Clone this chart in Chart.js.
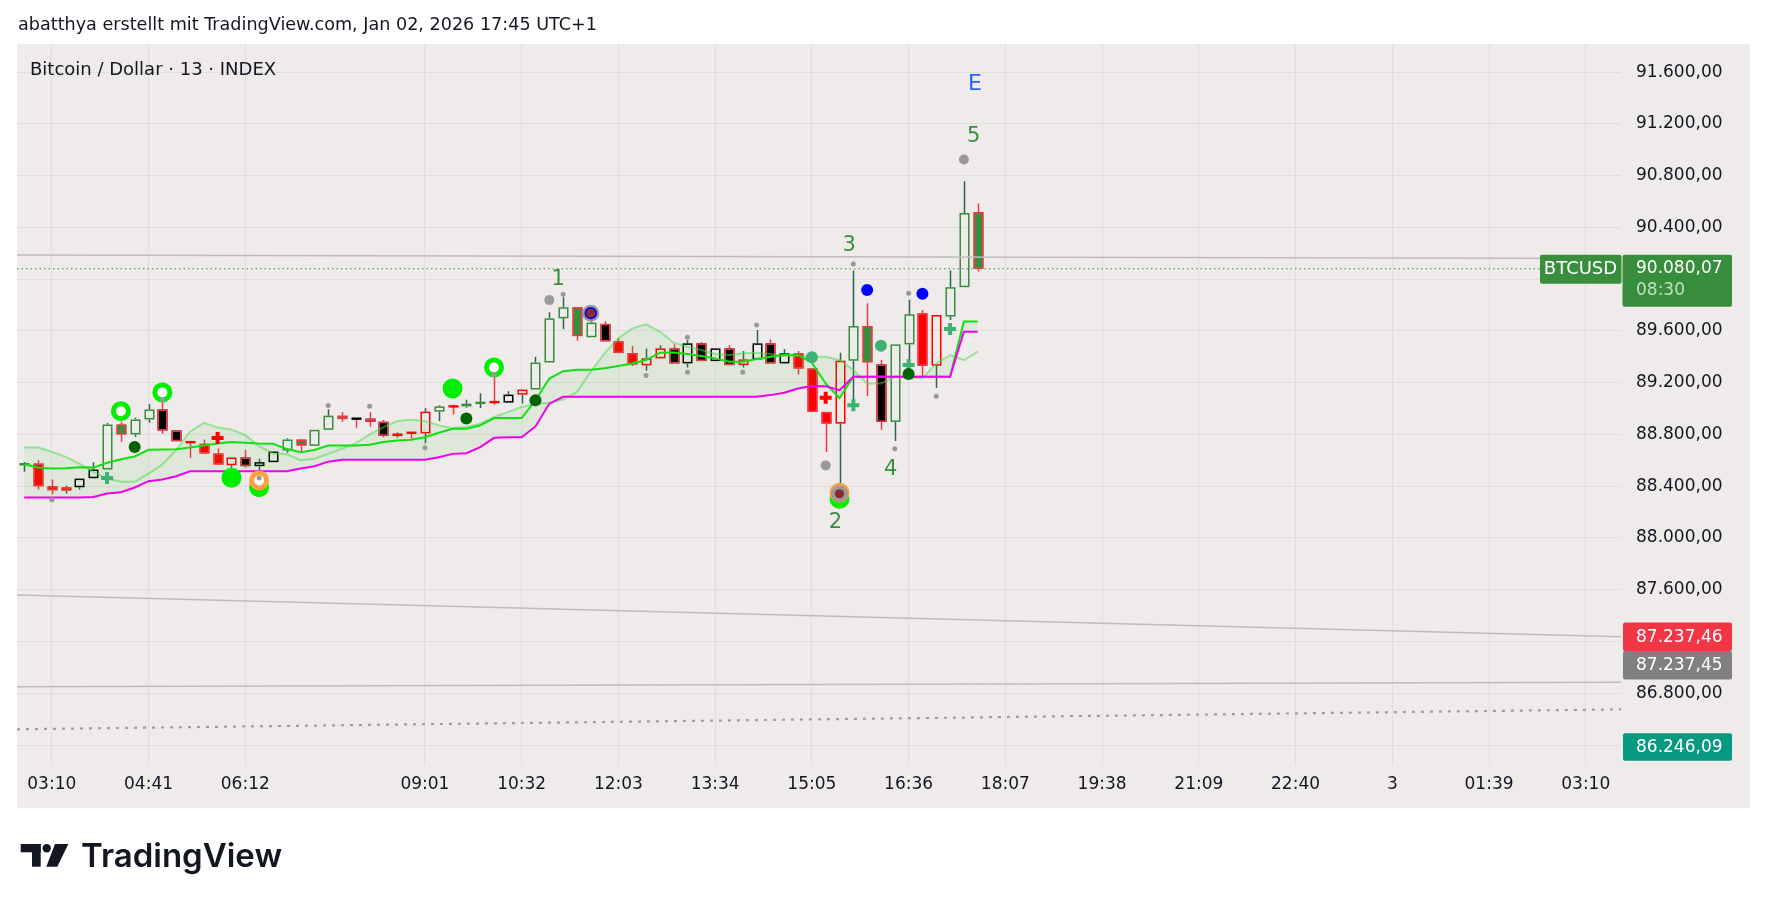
<!DOCTYPE html>
<html><head><meta charset="utf-8">
<script src="https://cdn.jsdelivr.net/npm/chart.js@4.4.1/dist/chart.umd.min.js"></script>
<style>html,body{margin:0;padding:0;background:#fff;}canvas{display:block;}</style>
</head><body>
<canvas id="c" width="1767" height="906"></canvas>
<script>
// ---------- DATA ----------
const bars   = [-2,-1,0,1,2,3,4,5,6,7,8,9,10,11,12,13,14,15,16,17,18,19,20,21,22,23,24,25,26,27,28,29,30,31,32,33,34,35,36,37,38,39,40,41,42,43,44,45,46,47,48,49,50,51,52,53,54,55,56,57,58,59,60,61,62,63,64,65,66,67];
const opens  = [88568,88575,88400,88366,88392,88462,88529,88877,88800,88916,88993,88831,88748,88728,88653,88562,88622,88555,88586,88676,88761,88712,88836,88945,88922,88922,88898,88787,88813,88808,88976,89017,89017,89035,89050,89046,89108,89147,89356,89697,89783,89551,89654,89520,89429,89334,89388,89465,89349,89504,89367,89465,89336,89380,89504,89349,89427,89310,88974,88884,89370,89638,89341,88897,89496,89736,89331,89711,89938,90519];
const highs  = [88588,88601,88452,88403,88459,88586,88890,88898,88929,89035,89050,88831,88748,88761,88692,88622,88679,88612,88668,88771,88761,88836,88994,88971,88922,88973,88911,88816,88813,89002,89025,89030,89069,89118,89271,89134,89147,89400,89744,89860,89783,89690,89675,89546,89484,89465,89489,89496,89530,89515,89465,89489,89445,89608,89535,89460,89445,89310,88974,89432,90067,89814,89375,89496,89840,89762,89723,90067,90757,90584];
const lows   = [88511,88374,88338,88343,88374,88462,88529,88743,88782,88890,88805,88748,88619,88653,88568,88542,88542,88519,88586,88658,88658,88712,88836,88898,88852,88860,88779,88774,88754,88733,88904,88955,89007,89004,89030,89046,89038,89147,89356,89612,89525,89551,89520,89429,89329,89292,89388,89349,89318,89367,89367,89336,89318,89380,89349,89349,89264,88974,88664,88420,89065,89098,88837,88750,89330,89246,89160,89685,89938,90059];
const closes = [88572,88400,88369,88392,88459,88529,88877,88800,88916,88993,88831,88748,88733,88653,88568,88622,88555,88586,88668,88761,88715,88836,88945,88919,88922,88898,88790,88808,88813,88976,89017,89017,89038,89053,89050,89108,89147,89356,89697,89783,89560,89664,89520,89429,89341,89388,89465,89349,89504,89367,89465,89336,89380,89504,89349,89427,89310,88974,88884,89370,89638,89357,88897,89496,89729,89331,89723,89938,90511,90080];
// candle colouring class from the indicator (G hollow green, g green filled, R red filled, r hollow red, K black filled, k hollow black)
const candleKind = ["G","R","R","r","k","k","G","g","G","G","K","K","R","R","R","r","K","k","k","G","g","G","G","g","K","K","K","r","R","r","G","R","G","G","R","k","r","G","G","G","g","G","K","R","R","r","r","K","k","K","k","K","r","k","K","k","R","R","R","r","G","g","K","G","G","R","r","G","G","g"];

const limeLine    = [88570,88544,88537,88539,88547,88544,88581,88609,88630,88681,88684,88686,88699,88715,88730,88741,88735,88730,88728,88689,88663,88680,88715,88715,88715,88720,88741,88754,88759,88779,88813,88844,88844,88870,88927,88927,88927,89064,89232,89289,89300,89300,89311,89329,89349,89375,89432,89434,89422,89406,89388,89362,89362,89383,89401,89414,89414,89355,89194,89080,89246,89246,89246,89246,89246,89246,89246,89246,89672,89672];
const magentaLine = [88312,88312,88312,88312,88312,88317,88343,88353,88390,88439,88452,88477,88516,88516,88516,88516,88516,88516,88516,88516,88537,88555,88590,88604,88604,88604,88604,88604,88604,88604,88624,88650,88655,88702,88774,88779,88779,88862,89038,89091,89091,89091,89091,89091,89091,89091,89091,89091,89091,89091,89091,89091,89091,89091,89104,89122,89155,89174,89173,89142,89246,89246,89246,89246,89246,89246,89246,89246,89594,89594];
const lightLine   = [88699,88699,88666,88627,88575,88511,88459,88434,88434,88498,88568,88679,88821,88890,88854,88839,88795,88710,88653,88648,88601,88612,88650,88689,88733,88800,88857,88904,88914,88904,88870,88849,88857,88883,88935,88973,89012,89038,89043,89069,89129,89285,89427,89543,89620,89651,89595,89509,89478,89453,89422,89414,89427,89432,89422,89406,89406,89400,89400,89375,89297,89194,89194,89246,89246,89233,89349,89414,89375,89440];

// markers (bar index / price)
const grayDotIdx  = [0,8,15,20,23,27,32,37,43,46,46,50,51,58,61,62,64];
const grayDotVal  = [88295,89070,88463,89024,89018,88698,89264,89884,89256,89551,89280,89280,89646,90117,88690,89892,89096];
const bigGrayIdx  = [36,56,66];
const bigGrayVal  = [89838,88561,90925];
const limeRingIdx = [5,8,32];
const limeRingVal = [88980,89125,89318];
const limeDotIdx  = [13,29,15,57];
const limeDotVal  = [88466,89155,88393,88303];
const darkDotIdx  = [6,30,35,62];
const darkDotVal  = [88703,88923,89065,89267];
const seaDotIdx   = [55,60];
const seaDotVal   = [89396,89486];
const plusIdx     = [4,58,62,65];
const plusVal     = [88463,89026,89336,89615];
const redPlusIdx  = [12,56];
const redPlusVal  = [88773,89083];
const blueDotIdx  = [59,63];
const blueDotVal  = [89917,89887];
const orangeIdx   = [15,57];
const orangeVal   = [88445,88350];
const pivotIdx    = [39,57];
const pivotVal    = [89737,88342];
const blueRingIdx = [39];
const blueRingVal = [89737];

const waveIdx  = [36.65,56.7,57.7,60.7,66.7,66.8];
const waveVal  = [89999,88121,90258,88530,91099,91502];
const waveText = ["1","2","3","4","5","E"];

// horizontal / trend lines (value at left edge, value at right edge)
const trendLeft  = [90187,87560,86851];
const trendRight = [90160,87237.46,86885];
const dottedLeft = 86522, dottedRight = 86676;
const lastPrice = 90080.07, lastCountdown = "08:30";
const tagRed = 87237.46, tagGray = 87237.45, tagTeal = 86246.09;

const xTickIdx    = [0,7,14,27,34,41,48,55,62,69,76,83,90,97,104,111];
const xTickLabels = ["03:10","04:41","06:12","09:01","10:32","12:03","13:34","15:05","16:36","18:07","19:38","21:09","22:40","3","01:39","03:10"];
const yTickVals   = [86400,86800,87200,87600,88000,88400,88800,89200,89600,90000,90400,90800,91200,91600];
const X_MIN = -2.518, X_MAX = 113.55, Y_MIN = 86246, Y_MAX = 91817;

// ---------- HELPERS ----------
const FONT = "'DejaVu Sans', Verdana, sans-serif";
function fmtDE(v){
  const s = Number(v).toFixed(2); const p = s.split('.');
  return p[0].replace(/\B(?=(\d{3})+(?!\d))/g,'.') + ',' + p[1];
}
function pts(xs, ys){ return xs.map((x,k)=>({x:x, y:ys[k]})); }

const KIND = {
  G:{fill:null,     stroke:'#388E3C'},
  g:{fill:'#388E3C',stroke:'#F23645'},
  R:{fill:'#FF0000',stroke:'#F23645'},
  r:{fill:null,     stroke:'#FF0000'},
  K:{fill:'#000000',stroke:'#F23645'},
  k:{fill:null,     stroke:'#000000'}
};
const WICK_UP = '#2B6452', WICK_DN = '#F23645';

const bgPlugin = {
  id:'bg',
  beforeDraw(chart){
    const ctx = chart.ctx;
    ctx.save();
    ctx.fillStyle='#ffffff'; ctx.fillRect(0,0,1767,906);
    ctx.fillStyle='#EEEBEA'; ctx.fillRect(17,44,1733,764);
    ctx.fillStyle='#131722'; ctx.textBaseline='middle'; ctx.textAlign='left';
    ctx.font = '17.6px '+FONT;
    ctx.fillText('abatthya erstellt mit TradingView.com, Jan 02, 2026 17:45 UTC+1', 18, 25);
    ctx.restore();
  }
};

const candlePlugin = {
  id:'candles',
  beforeDatasetsDraw(chart){
    const {ctx, chartArea:a, scales:{x, y}} = chart;
    ctx.save();
    ctx.beginPath(); ctx.rect(a.left, a.top, a.right-a.left, a.bottom-a.top); ctx.clip();
    const bw = 10, lw = 1.5;
    bars.forEach((b,k)=>{
      const cx = Math.round(x.getPixelForValue(b)) + 0.5;
      const o = opens[k], c = closes[k], h = highs[k], l = lows[k];
      const st = KIND[candleKind[k]];
      const top = y.getPixelForValue(Math.max(o,c)), bot = y.getPixelForValue(Math.min(o,c));
      ctx.strokeStyle = c > o ? WICK_UP : WICK_DN; ctx.lineWidth = lw;
      ctx.beginPath();
      ctx.moveTo(cx, y.getPixelForValue(h)); ctx.lineTo(cx, top);
      ctx.moveTo(cx, bot); ctx.lineTo(cx, y.getPixelForValue(l));
      ctx.stroke();
      const hgt = bot - top;
      if (hgt < 2.5){
        ctx.fillStyle = st.fill || st.stroke;
        ctx.fillRect(cx-bw/2, (top+bot)/2-1.2, bw, 2.4);
        return;
      }
      if (st.fill){ ctx.fillStyle = st.fill; ctx.fillRect(cx-bw/2, top, bw, hgt); }
      ctx.strokeStyle = st.stroke; ctx.lineWidth = lw;
      ctx.strokeRect(cx-bw/2+lw/2, top+lw/2, bw-lw, hgt-lw);
    });
    ctx.restore();
  }
};

const overlayPlugin = {
  id:'overlay',
  afterDraw(chart){
    const {ctx, chartArea:a, scales:{x, y}} = chart;
    ctx.save();
    // symbol title
    ctx.fillStyle='#131722'; ctx.font='18px '+FONT; ctx.textAlign='left'; ctx.textBaseline='middle';
    ctx.fillText('Bitcoin / Dollar \u00B7 13 \u00B7 INDEX', 30, 70);
    // wave labels
    ctx.textAlign='center';
    waveText.forEach((t,k)=>{
      ctx.fillStyle = t==='E' ? '#2962FF' : '#388E3C';
      ctx.font = (t==='E' ? '22px ' : '21px ') + FONT;
      ctx.fillText(t, x.getPixelForValue(waveIdx[k]), y.getPixelForValue(waveVal[k]));
    });
    // price tags
    function box(x0,y0,w,h,col){ ctx.fillStyle=col; ctx.beginPath(); ctx.roundRect(x0,y0,w,h,2); ctx.fill(); }
    const tx = a.right + 15;
    ctx.textAlign='left'; ctx.font='17px '+FONT;
    const yp = y.getPixelForValue(lastPrice);
    box(1540, yp-14, a.right-1540+0.5, 29, '#388E3C');
    box(a.right+1.5, yp-14, 109.5, 52, '#388E3C');
    ctx.fillStyle='#ffffff'; ctx.textAlign='center';
    ctx.font='500 18px '+FONT;
    ctx.fillText('BTCUSD', (1540+a.right)/2, yp+0.5);
    ctx.textAlign='left';
    ctx.font='17px '+FONT;
    ctx.fillText(fmtDE(lastPrice), tx, yp);
    ctx.fillStyle='rgba(255,255,255,0.7)';
    ctx.fillText(lastCountdown, tx, yp+22);
    const yr = y.getPixelForValue(tagRed);
    box(a.right+2, yr-14.3, 109, 28.7, '#F23645');
    box(a.right+2, yr+14.4, 109, 28.3, '#808080');
    const yt = Math.min(y.getPixelForValue(tagTeal), a.bottom-18);
    box(a.right+2, yt-13.7, 109, 27.4, '#089981');
    ctx.fillStyle='#ffffff';
    ctx.fillText(fmtDE(tagRed), tx, yr+0.5);
    ctx.fillText(fmtDE(tagGray), tx, yr+29);
    ctx.fillText(fmtDE(tagTeal), tx, yt+0.5);
    // TradingView logo
    ctx.fillStyle='#131722';
    ctx.fillRect(20.7,844,20,8.3);
    ctx.fillRect(32,844,8.7,22.7);
    ctx.beginPath(); ctx.arc(46.7,848.3,4.2,0,Math.PI*2); ctx.fill();
    ctx.beginPath(); ctx.moveTo(55,844); ctx.lineTo(68.3,844); ctx.lineTo(57.3,866.7); ctx.lineTo(46.3,866.7); ctx.closePath(); ctx.fill();
    ctx.font='600 33px Inter, sans-serif'; ctx.textBaseline='alphabetic';
    ctx.fillText('TradingView', 81, 867);
    ctx.restore();
  }
};

const xEdge = [X_MIN, X_MAX];
const datasets = [
  // markers (lower order = drawn on top)
  {data:pts(grayDotIdx,grayDotVal), showLine:false, pointRadius:2.5, pointBackgroundColor:'#999999', pointBorderWidth:0, order:1},
  {data:pts(pivotIdx,pivotVal), showLine:false, pointRadius:4.6, pointBackgroundColor:'#8B2A2A', pointBorderWidth:0, order:2},
  {data:pts(blueRingIdx,blueRingVal), showLine:false, pointRadius:6.2, pointBackgroundColor:'#0000FF', pointBorderWidth:0, order:3},
  {data:pts(pivotIdx,pivotVal), showLine:false, pointRadius:8.5, pointBackgroundColor:'#9A9A9A', pointBorderWidth:0, order:4},
  {data:pts(orangeIdx,orangeVal), showLine:false, pointRadius:7.5, pointBackgroundColor:'#ffffff', pointBorderColor:'#FF9F40', pointBorderWidth:5, order:5},
  {data:pts(limeDotIdx,limeDotVal), showLine:false, pointRadius:10, pointBackgroundColor:'#00EE00', pointBorderWidth:0, order:6},
  {data:pts(limeRingIdx,limeRingVal), showLine:false, pointRadius:7.5, pointBackgroundColor:'#ffffff', pointBorderColor:'#00EE00', pointBorderWidth:5, order:6},
  {data:pts(bigGrayIdx,bigGrayVal), showLine:false, pointRadius:5, pointBackgroundColor:'#999999', pointBorderWidth:0, order:6},
  {data:pts(darkDotIdx,darkDotVal), showLine:false, pointRadius:6, pointBackgroundColor:'#006400', pointBorderWidth:0, order:6},
  {data:pts(seaDotIdx,seaDotVal), showLine:false, pointRadius:6, pointBackgroundColor:'#3CB371', pointBorderWidth:0, order:6},
  {data:pts(blueDotIdx,blueDotVal), showLine:false, pointRadius:6, pointBackgroundColor:'#0000FF', pointBorderWidth:0, order:6},
  {data:pts(plusIdx,plusVal), showLine:false, pointStyle:'cross', pointRadius:6, pointBorderColor:'#3CB371', pointBorderWidth:4, order:6},
  {data:pts(redPlusIdx,redPlusVal), showLine:false, pointStyle:'cross', pointRadius:6, pointBorderColor:'#FF0000', pointBorderWidth:4, order:6},
  // indicator lines
  {data:pts(bars,magentaLine), borderColor:'#F000F0', borderWidth:2, pointRadius:0, order:10},
  {data:pts(bars,limeLine), borderColor:'#10E010', borderWidth:2, pointRadius:0, order:11,
    fill:{target:13, above:'rgba(40,190,40,0.08)', below:'rgba(40,190,40,0.08)'}},
  {data:pts(bars,lightLine), borderColor:'rgba(70,220,70,0.5)', borderWidth:2, pointRadius:0, order:12,
    fill:{target:14, above:'rgba(40,190,40,0.08)', below:'rgba(0,0,0,0)'}},
  // drawings
  {data:pts(xEdge,[lastPrice,lastPrice]), borderColor:'#388E3C', borderWidth:1, borderDash:[1.5,3], pointRadius:0, order:20},
  {data:pts(xEdge,[trendLeft[0],trendRight[0]]), borderColor:'#BDBDBD', borderWidth:1.5, pointRadius:0, order:21},
  {data:pts(xEdge,[trendLeft[1],trendRight[1]]), borderColor:'#BDBDBD', borderWidth:1.5, pointRadius:0, order:21},
  {data:pts(xEdge,[trendLeft[2],trendRight[2]]), borderColor:'#BDBDBD', borderWidth:1.5, pointRadius:0, order:21},
  {data:pts(xEdge,[dottedLeft,dottedRight]), borderColor:'#9E9E9E', borderWidth:2.2, borderDash:[3,6], pointRadius:0, order:21}
];

new Chart(document.getElementById('c'), {
  type:'line',
  data:{datasets:datasets},
  plugins:[bgPlugin, candlePlugin, overlayPlugin],
  options:{
    responsive:false, animation:false, devicePixelRatio:1,
    layout:{padding:{left:17, right:17, top:44, bottom:98}},
    elements:{line:{tension:0}},
    plugins:{legend:{display:false}, tooltip:{enabled:false}},
    scales:{
      x:{type:'linear', min:X_MIN, max:X_MAX, position:'bottom',
        afterFit(s){ s.height = 43; },
        afterBuildTicks(s){ s.ticks = xTickIdx.map(v=>({value:v})); },
        grid:{color:'rgba(0,0,0,0.055)', drawTicks:false},
        border:{display:false},
        ticks:{autoSkip:false, maxRotation:0, padding:9, color:'#131722', font:{family:FONT, size:17},
          callback(v){ const k = xTickIdx.indexOf(v); return k<0 ? '' : xTickLabels[k]; }}
      },
      y:{type:'linear', min:Y_MIN, max:Y_MAX, position:'right',
        afterFit(s){ s.width = 129; },
        afterBuildTicks(s){ s.ticks = yTickVals.map(v=>({value:v})); },
        grid:{color:'rgba(0,0,0,0.055)', drawTicks:false},
        border:{display:false},
        ticks:{padding:15, color:'#131722', font:{family:FONT, size:17}, callback(v){ return fmtDE(v); }}
      }
    }
  }
});
</script>
</body></html>
